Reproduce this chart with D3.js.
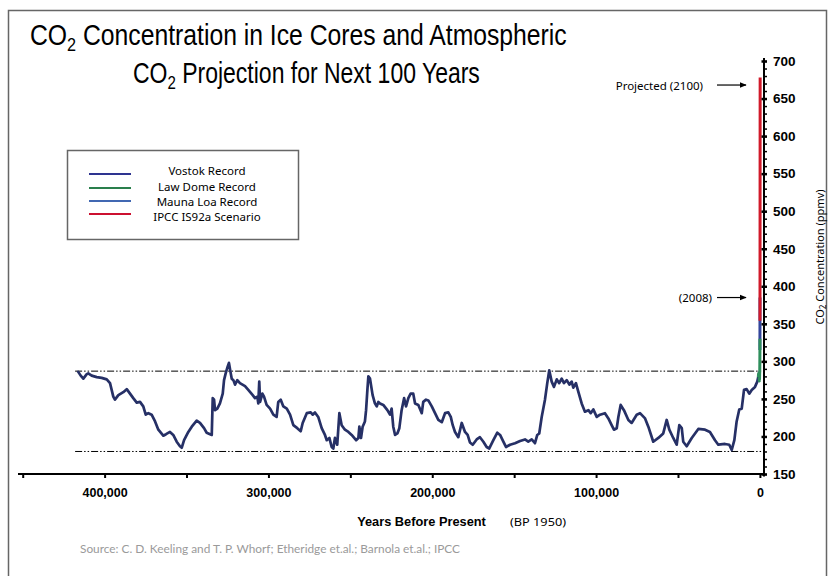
<!DOCTYPE html>
<html>
<head>
<meta charset="utf-8">
<script src="https://cdn.jsdelivr.net/npm/d3@7"></script>
<style>
  body { margin: 0; background: #fff; }
  svg { display: block; }
</style>
</head>
<body>
<svg id="chart" width="828" height="576"></svg>
<script>
// ---- Data -------------------------------------------------------------
// Ages are in thousands of years before present (BP 1950); negative = after 1950.
const vostokAge = [416.1,414.6,413.0,410.9,410.0,407.9,404.8,401.8,398.7,396.7,395.7,394.7,393.7,391.6,388.6,386.5,384.5,382.5,380.4,378.4,376.4,374.9,373.3,371.3,369.2,367.2,364.2,362.5,360.1,358.1,356.0,354.0,352.9,351.5,348.9,346.8,343.8,341.8,339.3,337.7,334.6,334.0,333.2,332.6,331.2,329.6,327.9,327.1,326.1,324.9,324.1,323.0,322.4,321.4,320.4,319.0,317.4,314.3,312.3,309.6,308.2,306.8,306.2,305.6,305.1,303.7,302.7,301.1,299.0,297.0,295.0,294.0,292.5,290.9,288.8,286.8,284.8,282.4,280.3,279.1,276.6,274.2,273.0,271.6,269.6,267.5,265.5,264.4,262.8,261.4,260.4,259.4,258.0,256.7,255.3,253.3,251.2,249.2,246.5,245.1,244.5,243.5,242.5,241.1,240.4,239.6,239.0,238.0,236.4,235.0,233.9,232.9,231.9,229.9,227.4,225.8,224.8,223.8,222.7,221.3,220.1,218.7,217.2,216.0,214.6,213.2,211.6,210.5,208.5,206.4,205.5,203.8,202.4,200.3,198.3,196.3,194.2,192.2,190.2,188.7,187.5,186.1,184.1,182.0,180.0,178.4,177.0,175.3,172.9,170.9,168.8,166.8,165.2,162.7,160.3,158.6,156.6,155.0,152.5,149.5,146.4,143.4,141.4,139.3,137.3,135.9,134.7,133.2,131.2,129.8,128.6,127.1,125.7,124.0,122.5,121.0,119.6,117.9,116.3,114.9,113.9,112.3,110.9,108.8,106.8,104.7,103.3,101.7,99.6,97.6,94.6,92.5,90.5,89.1,87.4,86.4,85.0,83.0,80.3,78.3,75.2,73.2,70.1,68.1,65.1,62.0,59.0,56.9,55.3,52.9,50.8,49.2,47.7,46.8,44.7,41.6,37.6,33.5,30.5,27.4,25.4,21.3,18.7,17.2,15.6,14.2,12.6,11.1,9.7,8.1,6.5,5.0,3.0,1.6,0.4];
const vostokCO2 = [286,281,277,283,284,281,279,278,276,271,262,253,249,255,259,263,257,251,245,246,240,229,231,229,220,209,201,203,206,202,193,187,185,195,206,213,221,218,211,205,202,251,249,235,237,244,257,275,284,293,298,284,277,275,269,275,271,267,262,255,251,253,244,273,246,257,253,242,237,229,226,246,249,240,237,229,215,211,207,218,231,232,229,232,226,211,202,195,198,186,184,198,189,231,215,209,206,202,195,198,213,198,213,220,235,262,280,277,255,244,240,246,244,242,235,229,237,213,202,204,211,235,251,240,251,257,257,244,242,231,246,249,248,240,231,222,219,231,232,226,215,206,199,218,206,202,192,189,196,199,193,186,184,195,205,202,193,186,189,191,194,196,193,196,191,202,204,226,249,271,288,273,266,276,271,277,271,275,269,273,265,271,260,244,233,235,231,236,226,229,231,224,215,209,211,226,242,235,222,218,229,231,224,213,193,198,204,222,209,198,189,215,211,193,187,198,210,209,206,195,189,190,189,182,195,220,236,237,262,263,257,262,266,273,285];

const lawDomeAge = [0.944,0.850,0.750,0.650,0.550,0.450,0.350,0.300,0.250,0.200,0.150,0.100,0.050,0.020,0.000,-0.010,-0.020,-0.028];
const lawDomeCO2 = [279,283,282,284,280,282,274,277,276,278,283,286,296,305,311,317,325,330];

const maunaLoaAge = [-0.008,-0.015,-0.020,-0.025,-0.030,-0.035,-0.040,-0.045,-0.050,-0.055,-0.058];
const maunaLoaCO2 = [315,320,325,331,339,346,354,361,369,380,385];

const ipccAge = [-0.040,-0.050,-0.060,-0.075,-0.100,-0.125,-0.150];
const ipccCO2 = [354,367,383,420,500,590,678];

// Glacial / interglacial reference levels (ppmv) and their span (ka BP)
const referenceLevels = [287, 180];
const referenceSpan = [418, 0];

// Axis ticks
const xTickValues = [450, 400, 350, 300, 250, 200, 150, 100, 50, 0];
const xTickLabels = ["", "400,000", "", "300,000", "", "200,000", "", "100,000", "", "0"];
const yTickValues = [150, 200, 250, 300, 350, 400, 450, 500, 550, 600, 650, 700];

// Legend
const legendLabels = ["Vostok Record", "Law Dome Record", "Mauna Loa Record", "IPCC IS92a Scenario"];
const seriesColors = ["#263066", "#2e8f5c", "#33459c", "#d11a2a"];
const legendColors = ["#2e3490", "#2a7f4c", "#4168b2", "#cc1030"];

// Annotations: label, CO2 level pointed at
const annotationLabels = ["Projected (2100)", "(2008)"];
const annotationLevels = [668, 385];

// ---- Layout -------------------------------------------------------------
const svg = d3.select("#chart");
const x = d3.scaleLinear().domain([450, -2.5]).range([22.7, 764]);
const y = d3.scaleLinear().domain([150, 700]).range([474, 61]);
const axisX = x(-2.5);

const labelFont = "'Noto Sans', 'DejaVu Sans', sans-serif";
const boldFont = "'Liberation Sans', Arial, sans-serif";

// Outer frame
svg.append("path")
  .attr("d", "M8.5,577 L8.5,10.5 L826.5,10.5 L826.5,577")
  .attr("fill", "none").attr("stroke", "#666").attr("stroke-width", 1.5);

// Title: two lines, horizontally condensed to the width of a narrow face
const titleLines = [
  { rest: "Concentration in Ice Cores and Atmospheric", left: 30, width: 537, base: 45 },
  { rest: "Projection for Next 100 Years", left: 133, width: 347, base: 83 }
];
titleLines.forEach(l => {
  const g = svg.append("g");
  const t = g.append("text").attr("x", 0).attr("y", 0)
    .attr("font-family", "'Liberation Sans', Arial, sans-serif")
    .attr("font-size", 29).attr("fill", "#000");
  t.append("tspan").text("CO");
  t.append("tspan").attr("font-size", 19).attr("dy", 6).text("2");
  t.append("tspan").attr("dy", -6).text(" " + l.rest);
  const w = t.node().getBBox().width;
  g.attr("transform", `translate(${l.left},${l.base}) scale(${l.width / w},1)`);
});

// Reference levels
svg.append("g").selectAll("line").data(referenceLevels).join("line")
  .attr("x1", x(referenceSpan[0])).attr("x2", x(referenceSpan[1]) + 2)
  .attr("y1", d => y(d)).attr("y2", d => y(d))
  .attr("stroke", "#000").attr("stroke-width", 1)
  .attr("stroke-dasharray", "7,2,1.5,2,1.5,2");

// Series
const line = d3.line().x(d => x(d[0])).y(d => y(d[1]));
const zip = (a, b) => a.map((v, i) => [v, b[i]]);

svg.append("path").datum(zip(vostokAge, vostokCO2))
  .attr("d", line).attr("fill", "none")
  .attr("stroke", seriesColors[0]).attr("stroke-width", 2.7)
  .attr("stroke-linejoin", "round").attr("stroke-linecap", "round");

svg.append("path").datum(zip(maunaLoaAge, maunaLoaCO2))
  .attr("d", line).attr("fill", "none")
  .attr("stroke", seriesColors[2]).attr("stroke-width", 3);

svg.append("path").datum(zip(lawDomeAge, lawDomeCO2))
  .attr("d", line).attr("fill", "none")
  .attr("stroke", seriesColors[1]).attr("stroke-width", 3)
  .attr("stroke-linejoin", "round");

svg.append("path").datum(zip(ipccAge, ipccCO2))
  .attr("d", line).attr("fill", "none")
  .attr("stroke", seriesColors[3]).attr("stroke-width", 3);

// X axis
const xAxisG = svg.append("g").attr("transform", `translate(0,${y(150)})`);
xAxisG.append("line").attr("x1", 18).attr("x2", axisX)
  .attr("stroke", "#000").attr("stroke-width", 2);
xAxisG.call(d3.axisBottom(x).tickValues(xTickValues).tickSize(4).tickPadding(10)
    .tickFormat((d, i) => xTickLabels[i]))
  .call(g => g.select(".domain").remove())
  .call(g => g.selectAll(".tick line").attr("stroke-width", 2).attr("y1", -1))
  .call(g => g.selectAll(".tick text")
    .attr("font-family", boldFont).attr("font-weight", "bold")
    .attr("font-size", 12.5).attr("fill", "#000"));

// Y axis (right)
const yAxisG = svg.append("g").attr("transform", `translate(${axisX},0)`);
yAxisG.append("line").attr("y1", 58).attr("y2", 476.5)
  .attr("stroke", "#000").attr("stroke-width", 2);
yAxisG.call(d3.axisRight(y).tickValues(d3.range(150, 701, 10)).tickSize(3).tickFormat(""))
  .call(g => g.select(".domain").remove())
  .call(g => g.selectAll(".tick line").attr("stroke-width", 1.5));
const yMajor = svg.append("g").attr("transform", `translate(${axisX},0)`);
yMajor.call(d3.axisRight(y).tickValues(yTickValues).tickSize(3).tickPadding(6))
  .call(g => g.select(".domain").remove())
  .call(g => g.selectAll(".tick line").attr("stroke-width", 2.5).attr("x1", -2.5))
  .call(g => g.selectAll(".tick text")
    .attr("font-family", boldFont).attr("font-weight", "bold")
    .attr("font-size", 13.5).attr("fill", "#000"));

// Y axis title
const yTitle = svg.append("text")
  .attr("transform", "translate(818.5,257) rotate(-90)")
  .attr("text-anchor", "middle").attr("dominant-baseline", "central")
  .attr("font-family", labelFont).attr("font-size", 11).attr("fill", "#000");
yTitle.append("tspan").text("CO");
yTitle.append("tspan").attr("font-size", 8).attr("dy", 3).text("2");
yTitle.append("tspan").attr("dy", -3).text(" Concentration (ppmv)");

// X axis title
svg.append("text").attr("x", 421.5).attr("y", 525.5)
  .attr("text-anchor", "middle")
  .attr("font-family", boldFont).attr("font-weight", "bold")
  .attr("font-size", 12.8).text("Years Before Present");
svg.append("text").attr("x", 510).attr("y", 525.5)
  .attr("font-family", labelFont).attr("font-size", 11.5)
  .attr("textLength", 56).attr("lengthAdjust", "spacingAndGlyphs")
  .text("(BP 1950)");

// Source
svg.append("text").attr("x", 80).attr("y", 553)
  .attr("font-family", "Lato, 'Open Sans', sans-serif").attr("font-size", 11.6)
  .attr("fill", "#9a9a9a")
  .attr("textLength", 380).attr("lengthAdjust", "spacingAndGlyphs")
  .text("Source: C. D. Keeling and T. P. Whorf; Etheridge et.al.; Barnola et.al.; IPCC");

// Annotations with arrows
svg.append("defs").append("marker")
  .attr("id", "arrow").attr("viewBox", "0 0 10 10")
  .attr("refX", 9).attr("refY", 5)
  .attr("markerWidth", 7).attr("markerHeight", 7)
  .attr("markerUnits", "userSpaceOnUse").attr("orient", "auto")
  .append("path").attr("d", "M0,1 L10,5 L0,9 Z").attr("fill", "#000");

const annotationRight = [703, 712];
const ann = svg.append("g").selectAll("g")
  .data(annotationLabels.map((l, i) => ({ label: l, level: annotationLevels[i], right: annotationRight[i] })))
  .join("g");
ann.append("text")
  .attr("x", d => d.right).attr("y", d => y(d.level))
  .attr("text-anchor", "end").attr("dominant-baseline", "central")
  .attr("font-family", labelFont).attr("font-size", 11.5)
  .text(d => d.label);
ann.append("line")
  .attr("x1", 717).attr("x2", 746)
  .attr("y1", d => y(d.level)).attr("y2", d => y(d.level))
  .attr("stroke", "#000").attr("stroke-width", 1.2)
  .attr("marker-end", "url(#arrow)");

// Legend
const legend = svg.append("g");
legend.append("rect").attr("x", 67.5).attr("y", 150.5).attr("width", 231).attr("height", 89)
  .attr("fill", "#fff").attr("stroke", "#666").attr("stroke-width", 1.5);
const legendLineY = [174, 188, 201, 214];
const legendTextY = [170, 186, 201, 216];
const items = legend.selectAll("g.item").data(legendLabels).join("g").attr("class", "item");
items.append("line")
  .attr("x1", 89).attr("x2", 131)
  .attr("y1", (d, i) => legendLineY[i]).attr("y2", (d, i) => legendLineY[i])
  .attr("stroke", (d, i) => legendColors[i]).attr("stroke-width", 2);
items.append("text")
  .attr("x", 207).attr("y", (d, i) => legendTextY[i])
  .attr("text-anchor", "middle").attr("dominant-baseline", "central")
  .attr("font-family", labelFont).attr("font-size", 11.5).attr("fill", "#000")
  .text(d => d);
</script>
</body>
</html>
